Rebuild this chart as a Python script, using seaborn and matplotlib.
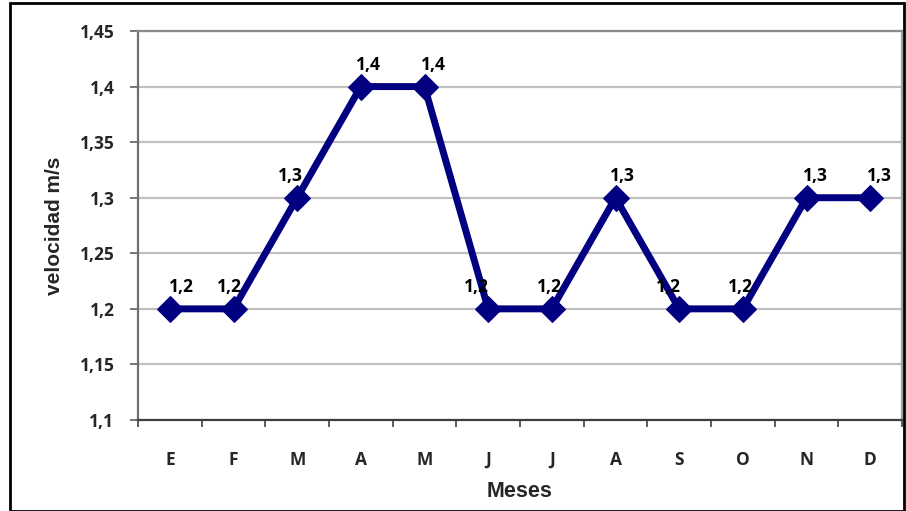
import matplotlib
matplotlib.use("Agg")
import matplotlib.pyplot as plt
import seaborn as sns
import pandas as pd
from matplotlib.ticker import FuncFormatter, FixedLocator
from matplotlib.patches import Rectangle

meses = ["E", "F", "M", "A", "M", "J", "J", "A", "S", "O", "N", "D"]
velocidad = [1.2, 1.2, 1.3, 1.4, 1.4, 1.2, 1.2, 1.3, 1.2, 1.2, 1.3, 1.3]
y_ticks = [1.1, 1.15, 1.2, 1.25, 1.3, 1.35, 1.4, 1.45]

# label offsets in pixels (style only)
label_dx = [12, -4, -7, 8, 9, -12, -2, 7, -11, -2, 9, 9]

sns.set_theme(style="white")
plt.rcParams["font.family"] = ["Liberation Sans", "DejaVu Sans"]
TICKFONT = ["Open Sans", "DejaVu Sans"]

df = pd.DataFrame({"idx": range(len(meses)), "mes": meses, "v": velocidad})

fig = plt.figure(figsize=(9.06, 5.11), dpi=100)
ax = fig.add_axes([138/906, 91/511, 764/906, 389/511])

sns.lineplot(data=df, x="idx", y="v", ax=ax, color="#000080", linewidth=5,
             marker="D", markersize=13.5, markeredgecolor="#000080",
             markerfacecolor="#000080", zorder=3, clip_on=False)

ax.set_xlim(-0.5, len(meses) - 0.5)
ax.set_ylim(1.1, 1.45)
ax.yaxis.set_major_locator(FixedLocator(y_ticks))
ax.yaxis.set_major_formatter(FuncFormatter(lambda v, p: ("%g" % round(v, 2)).replace(".", ",")))
ax.grid(axis="y", color="#c0c0c0", linewidth=1.6)
ax.set_axisbelow(True)

ax.set_xticks(range(len(meses)))
ax.set_xticklabels(meses)
ax.set_xticks([i - 0.5 for i in range(len(meses) + 1)], minor=True)
ax.tick_params(axis="x", which="major", length=0, pad=22)
ax.tick_params(axis="x", which="minor", length=5, width=1.2, color="#404040", direction="out", bottom=True)
ax.tick_params(axis="y", length=6, width=1.2, color="#606060", direction="out", left=True, pad=11)
for lab in ax.get_xticklabels() + ax.get_yticklabels():
    lab.set_fontweight("bold")
    lab.set_fontsize(12.5)
    lab.set_family(TICKFONT)

ax.spines["left"].set_color("#707070")
ax.spines["bottom"].set_color("#404040")
ax.spines["right"].set_color("#a0a0a0")
ax.spines["top"].set_color("#8a8a8a")
for s in ax.spines.values():
    s.set_linewidth(1.6)

ax.set_xlabel("Meses", fontsize=15.5, fontweight="bold", labelpad=9)
ax.set_ylabel("velocidad m/s", fontsize=15, fontweight="bold")
ax.yaxis.set_label_coords(-0.097, 0.5)

for i, v in enumerate(velocidad):
    ax.annotate(("%g" % v).replace(".", ","), (i, v), xytext=(label_dx[i], 22),
                textcoords="offset pixels", ha="center", va="center",
                fontsize=12.5, fontweight="bold", family=TICKFONT,
                color="black", zorder=4)

fig.patches.append(Rectangle((10/906, 0), 894/906, 508/511, transform=fig.transFigure,
                             fill=False, edgecolor="black", linewidth=2))

fig.savefig("out.png", dpi=100)
